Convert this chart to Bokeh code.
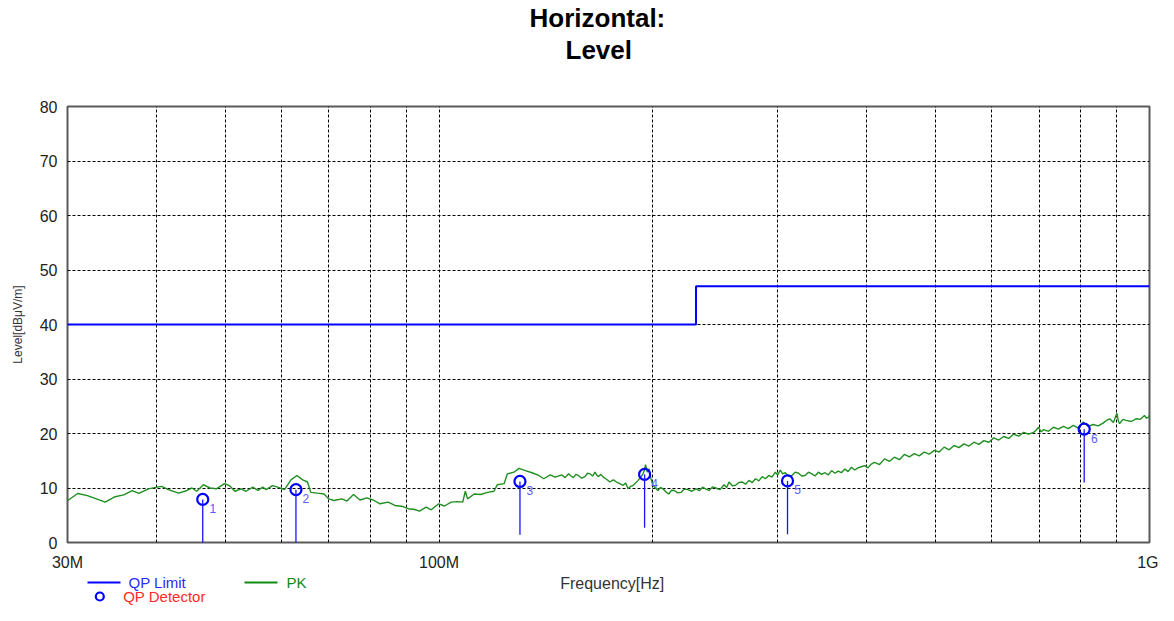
from bokeh.plotting import figure
from bokeh.models import Range1d, FixedTicker, Title, Arrow, ColumnDataSource
from bokeh.layouts import column
from bokeh.core.properties import value
from bokeh.embed import file_html
from bokeh.resources import INLINE

FONT = "Liberation Sans"

# ---------------- data (MHz, dBuV/m) ----------------
pk_freq = [30.0, 30.1, 31.0, 32.0, 33.9, 35.0, 36.0, 37.0, 37.8, 39.0, 40.1, 40.7, 41.6, 43.0, 44.1, 44.9,
           45.6, 46.6, 47.6, 48.6, 49.9, 50.7, 51.6, 52.7, 53.5, 54.7, 55.6, 56.5, 57.1, 58.3, 59.3, 60.6,
           61.9, 63.1, 64.3, 65.3, 66.0, 67.4, 68.9, 70.0, 71.1, 73.0, 74.2, 75.8, 77.4, 79.1, 80.8, 82.6,
           84.8, 86.7, 89.0, 90.5, 92.4, 93.9, 95.9, 97.5, 99.9, 101.8, 104.0, 106.2, 108.0, 108.9, 109.7,
           112.1, 114.5, 117.0, 119.5, 120.8, 123.5, 124.8, 127.5, 129.6, 132.3, 135.2, 138.2, 140.4, 143.4,
           145.7, 148.9, 150.5, 152.2, 153.4, 154.6, 155.8, 157.1, 158.8, 160.5, 161.8, 163.1, 164.5, 165.8,
           166.7, 167.6, 169.0, 170.3, 172.1, 174.0, 175.9, 177.8, 179.7, 181.6, 183.1, 184.6, 186.1, 187.6,
           189.1, 190.6, 192.1, 193.7, 194.5, 195.3, 196.4, 197.5, 198.7, 200.0, 201.6, 203.3, 205.0, 206.6,
           208.6, 210.6, 212.5, 214.4, 216.8, 219.1, 221.5, 223.9, 227.0, 230.0, 232.5, 235.0, 237.5, 240.0,
           242.6, 245.2, 248.5, 251.9, 254.0, 256.0, 258.7, 261.5, 264.3, 267.2, 270.1, 273.0, 276.0, 278.9,
           282.0, 285.0, 288.0, 291.1, 294.2, 297.4, 299.8, 302.2, 304.6, 307.1, 310.4, 313.8, 317.2, 320.6,
           324.0, 327.5, 331.1, 334.7, 338.3, 341.9, 345.6, 349.3, 353.1, 356.9, 360.7, 364.6, 368.5, 372.5,
           376.5, 380.6, 384.7, 388.8, 393.0, 397.3, 401.6, 405.9, 410.2, 416.9, 423.7, 430.6, 437.5, 444.6,
           451.8, 459.2, 466.6, 474.2, 481.9, 489.7, 497.6, 505.8, 514.0, 522.4, 530.8, 539.4, 548.1, 557.1,
           566.1, 575.3, 584.6, 594.1, 603.7, 613.6, 623.5, 633.7, 643.9, 654.4, 665.0, 675.8, 686.7, 692.3,
           697.9, 703.5, 709.2, 720.8, 732.4, 744.4, 756.4, 768.7, 781.1, 793.9, 806.7, 819.9, 833.1, 846.7,
           860.3, 869.7, 879.1, 889.5, 899.9, 903.8, 907.7, 917.4, 927.2, 942.4, 957.6, 970.7, 983.8, 990.7,
           997.5, 1000.0]
pk_level = [7.6, 7.8, 9.0, 8.6, 7.4, 8.4, 8.75, 9.5, 9.0, 9.85, 10.15, 10.3, 9.7, 9.05, 9.5, 10.0,
            9.4, 10.6, 10.0, 9.85, 10.8, 10.45, 9.4, 9.85, 9.4, 10.15, 9.55, 10.15, 9.7, 10.45, 10.15, 9.7,
            11.5, 12.3, 11.5, 11.1, 9.2, 9.05, 8.9, 8.0, 7.7, 8.0, 7.6, 8.8, 7.8, 8.2, 7.8, 7.1,
            7.4, 6.8, 6.6, 6.2, 6.05, 5.75, 6.5, 6.0, 7.1, 6.7, 7.4, 7.5, 7.4, 9.4, 8.0,
            8.9, 8.8, 9.2, 9.4, 10.6, 10.8, 12.6, 12.9, 13.6, 13.2, 12.8, 12.3, 11.7, 12.4,
            12.0, 12.4, 11.9, 12.6, 12.2, 11.9, 12.5, 12.3, 11.8, 12.1, 12.7, 12.6, 12.2, 12.9,
            12.4, 12.1, 12.5, 12.0, 11.6, 11.1, 11.5, 11.1, 10.8, 10.5, 10.9, 9.85, 10.3, 10.5,
            10.9, 11.4, 11.9, 12.6, 13.2, 14.3, 12.9, 13.5, 11.8, 10.5, 10.0, 9.55, 10.1, 9.85,
            9.3, 8.9, 9.6, 9.55, 9.1, 9.2, 9.8, 9.7, 9.4, 9.85, 9.5, 10.15, 9.8, 9.55,
            10.2, 10.0, 9.7, 10.6, 10.1, 11.1, 10.4, 10.5, 11.0, 11.1, 10.7, 11.4, 11.0, 11.7,
            11.3, 12.1, 11.7, 12.3, 12.0, 12.9, 12.4, 13.3, 12.6, 12.8, 12.2, 12.3, 12.9, 12.7,
            12.2, 12.3, 12.9, 12.6, 12.2, 12.9, 12.5, 12.8, 12.4, 13.2, 12.7, 13.1, 12.8, 13.5,
            13.0, 13.8, 13.3, 13.7, 13.9, 14.1, 13.7, 14.4, 14.7, 14.3, 15.35, 14.9, 15.65, 15.2,
            16.15, 15.7, 16.3, 15.9, 16.6, 16.2, 16.9, 16.6, 17.5, 17.0, 17.8, 17.4, 18.1, 17.7,
            18.4, 18.0, 18.7, 18.4, 19.2, 18.8, 19.45, 19.1, 19.9, 19.5, 20.2, 19.9, 20.2, 20.6,
            21.15, 20.3, 20.7, 20.4, 21.15, 20.8, 21.3, 20.9, 21.5, 21.0, 22.1, 21.3, 21.65, 21.4,
            21.9, 22.4, 22.7, 22.0, 23.7, 22.3, 21.8, 22.6, 22.4, 22.2, 22.7, 22.6, 23.3, 22.8,
            23.0, 23.4]

limit_freq = [30.0, 230.0, 230.0, 1000.0]
limit_level = [40.0, 40.0, 47.0, 47.0]

qp_freq = [46.5, 62.9, 130.0, 194.7, 309.4, 809.3]
qp_level = [7.9, 9.7, 11.2, 12.5, 11.3, 20.8]
qp_names = ["1", "2", "3", "4", "5", "6"]
stem_drop = 9.8

x_ticks = [30, 100, 1000]
x_tick_labels = ["30M", "100M", "1G"]
x_minor = [40, 50, 60, 70, 80, 90, 200, 300, 400, 500, 600, 700, 800, 900]
y_ticks = [0, 10, 20, 30, 40, 50, 60, 70, 80]

# ---------------- main figure ----------------
FRAME_L, FRAME_R = 67, 1149
MAIN_H = 573
p = figure(width=1158, height=MAIN_H, x_axis_type="log",
           x_range=Range1d(30, 1000), y_range=Range1d(0, 80),
           output_backend="svg", toolbar_location=None,
           min_border_left=FRAME_L, min_border_right=1158 - FRAME_R,
           min_border_top=0, min_border_bottom=30)

# title stack: spacer (next to frame), "Level", "Horizontal:"
p.add_layout(Title(text=" ", text_font=FONT, text_font_size="26px", standoff=10), "above")
p.add_layout(Title(text="Level", align="left", offset=498, text_font=FONT, text_font_size="26px",
                   text_font_style="bold", text_color="black", standoff=0), "above")
p.add_layout(Title(text="Horizontal:", align="left", offset=462, text_font=FONT, text_font_size="26px",
                   text_font_style="bold", text_color="black", standoff=0), "above")

p.xaxis.ticker = FixedTicker(ticks=x_ticks, minor_ticks=x_minor)
p.xaxis.major_label_overrides = dict(zip(x_ticks, x_tick_labels))
p.yaxis.ticker = FixedTicker(ticks=y_ticks)
for ax in (p.xaxis, p.yaxis):
    ax.major_tick_line_color = None
    ax.minor_tick_line_color = None
    ax.axis_line_color = None
    ax.major_label_text_font = FONT
    ax.major_label_text_font_size = "16px"
    ax.major_label_text_color = "#222222"
p.xaxis.major_label_standoff = 5
p.yaxis.major_label_standoff = 4
p.yaxis.axis_label = "Level[dBμV/m]"
p.yaxis.axis_label_text_font = FONT
p.yaxis.axis_label_text_font_size = "12px"
p.yaxis.axis_label_text_font_style = "normal"
p.yaxis.axis_label_text_color = "#333333"
p.yaxis.axis_label_standoff = 12

p.xgrid.ticker = FixedTicker(ticks=x_ticks, minor_ticks=x_minor)
p.ygrid.ticker = FixedTicker(ticks=y_ticks)
p.xgrid.grid_line_color = "black"
p.xgrid.grid_line_dash = "3 2"
p.xgrid.minor_grid_line_color = "black"
p.xgrid.minor_grid_line_dash = "3 2"
p.ygrid.grid_line_color = "black"
p.ygrid.grid_line_dash = "3 2"
p.outline_line_color = "#5a5a5a"
p.outline_line_width = 2

p.line(limit_freq, limit_level, line_color="#0000ff", line_width=2)
p.line(pk_freq, pk_level, line_color="#1f8f1f", line_width=1.4)

stem_end = [v - stem_drop for v in qp_level]
qsrc = ColumnDataSource(dict(f=qp_freq, lvl=qp_level, lo=stem_end, name=qp_names))
p.add_layout(Arrow(end=None, x_start="f", y_start="lvl", x_end="f", y_end="lo", source=qsrc,
                   line_color="#1515ff", line_width=1.3))
p.scatter("f", "lvl", source=qsrc, marker="circle", size=11, fill_color=None,
          line_color="#0000ff", line_width=2.2)
p.text("f", "lvl", text="name", source=qsrc, x_offset=10, y_offset=9,
       text_align="center", text_baseline="middle", text_font=value(FONT),
       text_font_size="12px", text_color="#5a5aff")

# ---------------- legend strip (its frame is aligned with the main frame) ----------------
lg = figure(width=1158, height=605 - MAIN_H, x_range=Range1d(FRAME_L, FRAME_R),
            y_range=Range1d(605, MAIN_H),
            output_backend="svg", toolbar_location=None, min_border=0,
            x_axis_location=None, y_axis_location=None)
lg.grid.visible = False
lg.outline_line_color = None

ROW1, ROW2 = 582, 596
lg.line([87, 120], [ROW1, ROW1], line_color="#0000ff", line_width=2)
lg.line([244, 277], [ROW1, ROW1], line_color="#138a13", line_width=2)
lg.scatter([99.3], [ROW2], marker="circle", size=8, fill_color=None, line_color="#0000ff", line_width=2.2)
lg.text([128], [ROW1], text=["QP Limit"], text_baseline="middle", text_font=value(FONT),
        text_font_size="15px", text_color="#2a2aff")
lg.text([286], [ROW1], text=["PK"], text_baseline="middle", text_font=value(FONT),
        text_font_size="15px", text_color="#138a13")
lg.text([122.7], [ROW2], text=["QP Detector"], text_baseline="middle", text_font=value(FONT),
        text_font_size="15px", text_color="#ff2a2a")
lg.text([611.7], [ROW1 + 1], text=["Frequency[Hz]"], text_baseline="middle", text_align="center",
        text_font=value(FONT), text_font_size="16px", text_color="#333333")

layout = column(p, lg, spacing=0)
open("out.html", "w").write(file_html(layout, INLINE))
